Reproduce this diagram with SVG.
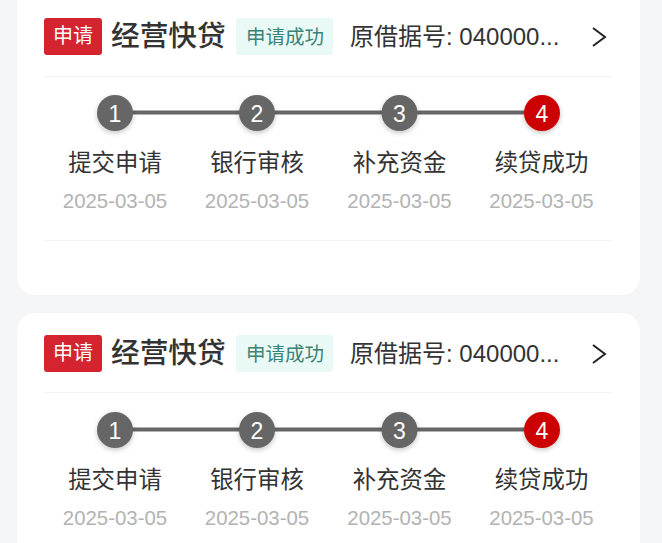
<svg xmlns="http://www.w3.org/2000/svg" width="662" height="543" viewBox="0 0 662 543">
<style>
text{font-family:"Noto Sans CJK SC","Noto Sans",sans-serif}
.num{font-family:"Liberation Sans",sans-serif;font-size:23px;fill:#fff;text-anchor:middle}
.lbl{font-size:23.400px;fill:#333;text-anchor:middle}
.date{font-family:"Liberation Sans",Arial,sans-serif;font-size:20.400px;fill:#b3b3b3;text-anchor:middle}
.rule{stroke:#f1f2f4;stroke-width:1;fill:none}
.link{stroke:#666;stroke-width:4}
.tag{font-size:20px;fill:#fff;text-anchor:middle}
.title{font-size:28.700px;font-weight:500;fill:#333}
.status{font-size:19.500px;fill:#3a8378;text-anchor:middle}
.ref{font-size:24px;fill:#333}
.ref2{font-family:"Liberation Sans",sans-serif;font-size:24px;fill:#333}
</style>
<defs>
<filter id="s" x="-40%" y="-40%" width="180%" height="190%"><feDropShadow dx="0" dy="2" stdDeviation="2.500" flood-color="#000" flood-opacity=".22"/></filter>
</defs>
<rect width="662" height="543" fill="#f4f5f7"/>
<g id="card-1">
<rect x="17" y="-40" width="623" height="335" rx="18" fill="#fff"/>
<rect x="44" y="18" width="58" height="37" rx="3" fill="#d4242f"/>
<text class="tag" x="73" y="42.500">申请</text>
<text class="title" x="111" y="46">经营快贷</text>
<rect x="236" y="18" width="97" height="37" rx="3" fill="#e9f9f5"/>
<text class="status" x="285" y="43.500">申请成功</text>
<text x="350" y="45"><tspan class="ref">原借据号</tspan><tspan class="ref2">: 040000...</tspan></text>
<path d="M593 28l12 9-12 9" fill="none" stroke="#222" stroke-width="2"/>
<path class="rule" d="M44 76.500H612M44 240.500H612"/>
</g>
<g id="connectors-1">
<path class="link" d="M115 112.500H541"/>
</g>
<g id="steps-1">
<g id="s1-1"><circle cx="115" cy="113" r="18" fill="#666" filter="url(#s)"/><text class="num" x="115" y="122">1</text><text class="lbl" x="115" y="171">提交申请</text><text class="date" x="115" y="208">2025-03-05</text></g>
<g id="s1-2"><circle cx="257" cy="113" r="18" fill="#666" filter="url(#s)"/><text class="num" x="257" y="122">2</text><text class="lbl" x="257" y="171">银行审核</text><text class="date" x="257" y="208">2025-03-05</text></g>
<g id="s1-3"><circle cx="399.500" cy="113" r="18" fill="#666" filter="url(#s)"/><text class="num" x="399.500" y="122">3</text><text class="lbl" x="399.500" y="171">补充资金</text><text class="date" x="399.500" y="208">2025-03-05</text></g>
<g id="s1-4"><circle cx="542" cy="113" r="18" fill="#cc0000" filter="url(#s)"/><text class="num" x="542" y="122">4</text><text class="lbl" x="541.500" y="171">续贷成功</text><text class="date" x="541.500" y="208">2025-03-05</text></g>
</g>
<g id="card-2">
<rect x="17" y="313" width="623" height="300" rx="18" fill="#fff"/>
<rect x="44" y="335" width="58" height="37" rx="3" fill="#d4242f"/>
<text class="tag" x="73" y="359.500">申请</text>
<text class="title" x="111" y="363">经营快贷</text>
<rect x="236" y="335" width="97" height="37" rx="3" fill="#e9f9f5"/>
<text class="status" x="285" y="360.500">申请成功</text>
<text x="350" y="362"><tspan class="ref">原借据号</tspan><tspan class="ref2">: 040000...</tspan></text>
<path d="M593 345l12 9-12 9" fill="none" stroke="#222" stroke-width="2"/>
<path class="rule" d="M44 392.500H612"/>
</g>
<g id="connectors-2">
<path class="link" d="M115 429.500H541"/>
</g>
<g id="steps-2">
<g id="s2-1"><circle cx="115" cy="430" r="18" fill="#666" filter="url(#s)"/><text class="num" x="115" y="439">1</text><text class="lbl" x="115" y="488">提交申请</text><text class="date" x="115" y="525">2025-03-05</text></g>
<g id="s2-2"><circle cx="257" cy="430" r="18" fill="#666" filter="url(#s)"/><text class="num" x="257" y="439">2</text><text class="lbl" x="257" y="488">银行审核</text><text class="date" x="257" y="525">2025-03-05</text></g>
<g id="s2-3"><circle cx="399.500" cy="430" r="18" fill="#666" filter="url(#s)"/><text class="num" x="399.500" y="439">3</text><text class="lbl" x="399.500" y="488">补充资金</text><text class="date" x="399.500" y="525">2025-03-05</text></g>
<g id="s2-4"><circle cx="542" cy="430" r="18" fill="#cc0000" filter="url(#s)"/><text class="num" x="542" y="439">4</text><text class="lbl" x="541.500" y="488">续贷成功</text><text class="date" x="541.500" y="525">2025-03-05</text></g>
</g>
</svg>
